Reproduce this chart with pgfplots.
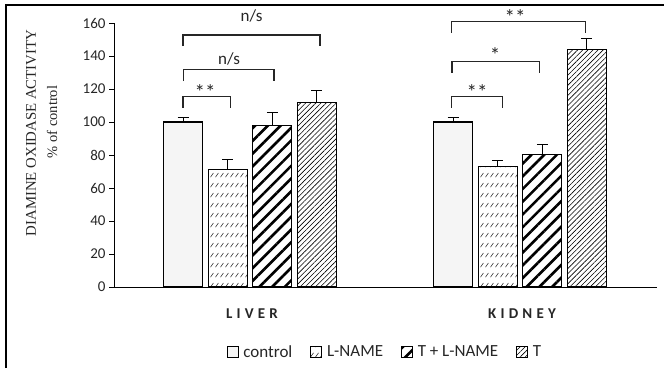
\documentclass[border=0pt]{standalone}
\usepackage{pgfplots}
\pgfplotsset{compat=1.18}
\usepackage{fontspec}
\setmainfont{Carlito}
\newfontfamily\timesfont{Liberation Serif}
\newfontfamily\spacedfont[LetterSpace=28]{Carlito}
\usetikzlibrary{patterns,patterns.meta}
\tikzdeclarepattern{name=dashhatch, type=uncolored,
  bottom left={(0pt,0pt)}, top right={(5pt,10pt)}, tile size={(5pt,10pt)},
  code={\draw[line width=0.5pt] (0.6pt,2pt) -- (4pt,6.5pt);}}
\definecolor{txt}{HTML}{262626}
\pgfplotstableread{
x y e
136 100 2.5
406 100 2.5
}\control
\pgfplotstableread{
x y e
136 71 6
406 73 3.5
}\lname
\pgfplotstableread{
x y e
136 98 7.5
406 80.5 6
}\tlname
\pgfplotstableread{
x y e
136 112 7
406 144 6.5
}\tonly
\begin{document}
\begin{tikzpicture}[x=1pt,y=1pt]
\useasboundingbox (0,0) rectangle (664,368);
\draw[line width=1.2pt] (6,0) -- (6,363) -- (664,363);
\node[rotate=90, font=\timesfont\fontsize{14.8}{15}\selectfont, text=txt] at (31,235) {DIAMINE OXIDASE ACTIVITY};
\node[rotate=90, font=\timesfont\fontsize{14.5}{15}\selectfont, text=txt] at (52,246) {\% of control};
\begin{axis}[
  at={(114pt,81pt)}, anchor=south west,
  scale only axis, width=543pt, height=264pt,
  xmin=0, xmax=543, ymin=0, ymax=160,
  axis lines*=left,
  axis line style={line width=1pt, black},
  ybar=5.6pt, bar width=39pt,
  xtick={136,406}, xticklabels={LIVER,KIDNEY},
  xtick style={draw=none},
  x tick label style={font=\spacedfont\bfseries\fontsize{15}{15}\selectfont, text=txt, anchor=center, yshift=-22pt, xshift=2pt},
  ytick={0,20,...,160},
  ytick style={line width=0.8pt, black},
  tick align=outside, major tick length=5pt,
  y tick label style={font=\fontsize{15}{15}\selectfont, text=txt},
  /pgf/number format/assume math mode=true,
  clip=false,
  legend style={at={(0.499,-0.2465)}, anchor=center, draw=none, legend columns=4,
    font=\fontsize{17}{17}\selectfont, text=txt, inner sep=0pt,
    /tikz/every odd column/.append style={column sep=3pt},
    /tikz/every even column/.append style={column sep=16pt}},
  legend image code/.code={\draw[#1, line width=0.7pt] (0pt,-5.5pt) rectangle (11pt,5.5pt);},
  error bars/y dir=plus, error bars/y explicit,
  error bars/error bar style={line width=1pt, black},
  error bars/error mark options={rotate=90, mark size=5.5pt, line width=1pt, black},
]
\addplot[draw=black, line width=1.2pt, fill=gray!8] table[x=x,y=y,y error=e]{\control};
\addplot[draw=black, line width=1.2pt, pattern=dashhatch] table[x=x,y=y,y error=e]{\lname};
\addplot[draw=black, line width=1.2pt, pattern={Lines[angle=45,distance=9pt,line width=2.6pt]}] table[x=x,y=y,y error=e]{\tlname};
\addplot[draw=black, line width=1.2pt, pattern={Lines[angle=45,distance=3.6pt,line width=0.6pt]}] table[x=x,y=y,y error=e]{\tonly};
\legend{control, L-NAME, T + L-NAME, T}
% significance brackets
\begin{scope}[line width=1.1pt, draw=txt]
\draw (axis cs:69,108.7) -- (axis cs:69,115.3) -- (axis cs:116.5,115.3) -- (axis cs:116.5,108.7);
\draw (axis cs:69.3,124.8) -- (axis cs:69.3,132) -- (axis cs:160,132) -- (axis cs:160,124.8);
\draw (axis cs:69,146) -- (axis cs:69,152.7) -- (axis cs:206,152.7) -- (axis cs:206,146);
\draw (axis cs:337.3,108.5) -- (axis cs:337.3,115.3) -- (axis cs:388.7,115.3) -- (axis cs:388.7,108.5);
\draw (axis cs:338,129.9) -- (axis cs:338,136.5) -- (axis cs:425.3,136.5) -- (axis cs:425.3,129.9);
\draw (axis cs:337.3,154) -- (axis cs:337.3,160.8) -- (axis cs:471.3,160.8) -- (axis cs:471.3,154);
\end{scope}
\begin{scope}[every node/.style={font=\fontsize{17}{17}\selectfont, text=txt, inner sep=0pt}]
\node at (axis cs:115,138) {n/s};
\node at (axis cs:137.5,164) {n/s};
\end{scope}
\begin{scope}[every node/.style={font=\fontsize{21}{21}\selectfont, text=txt, inner sep=0pt}]
\node at (axis cs:91,118.3) {**};
\node at (axis cs:363,118.3) {**};
\node at (axis cs:381,140.3) {*};
\node at (axis cs:401,163.6) {**};
\end{scope}
\end{axis}
\end{tikzpicture}
\end{document}
